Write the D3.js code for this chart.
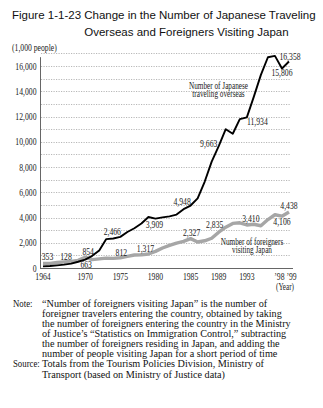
<!DOCTYPE html>
<html>
<head>
<meta charset="utf-8">
<script src="https://cdn.jsdelivr.net/npm/d3@7"></script>
<style>
  html, body { margin: 0; padding: 0; background: #fff; }
  svg { display: block; }
</style>
</head>
<body>
<svg id="chart" width="323" height="408"></svg>
<script>
// Years covered by the series
const years = [1964, 1965, 1966, 1967, 1968, 1969, 1970, 1971, 1972, 1973, 1974, 1975,
               1976, 1977, 1978, 1979, 1980, 1981, 1982, 1983, 1984, 1985, 1986, 1987,
               1988, 1989, 1990, 1991, 1992, 1993, 1994, 1995, 1996, 1997, 1998, 1999];

// Japanese traveling overseas (thousand people)
const japaneseOverseas = [128, 159, 212, 268, 344, 493, 663, 961, 1392, 2289, 2336, 2466,
                          2853, 3151, 3525, 4038, 3909, 4006, 4086, 4232, 4659, 4948, 5516, 6829,
                          8427, 9663, 10997, 10634, 11791, 11934, 13579, 15298, 16695, 16803, 15806, 16358];

// Foreigners visiting Japan (thousand people)
const foreignVisitors = [353, 367, 433, 477, 519, 609, 854, 661, 724, 785, 764, 812,
                         915, 1028, 1039, 1113, 1317, 1583, 1793, 1968, 2110, 2327, 2062, 2155,
                         2355, 2835, 3236, 3533, 3582, 3410, 3468, 3345, 3837, 4218, 4106, 4438];

// Axis ticks
const yTickValues = [0, 2000, 4000, 6000, 8000, 10000, 12000, 14000, 16000];
const xTickYears = [1964, 1970, 1975, 1980, 1985, 1989, 1993, 1998.5];
const xTickLabels = ["1964", "1970", "1975", "1980", "1985", "1989", "1993", "\u201998 \u201999"];

// Years whose values are written next to each line
const japaneseLabelYears = [1964, 1970, 1975, 1980, 1985, 1989, 1993, 1998, 1999];
const foreignLabelYears = [1964, 1970, 1975, 1980, 1985, 1989, 1993, 1998, 1999];

// Texts
const titleLines = ["Figure 1-1-23", "Change in the Number of Japanese Traveling",
                    "Overseas and Foreigners Visiting Japan"];
const unitLabel = "(1,000 people)";
const yearLabel = "(Year)";
const japaneseName = ["Number of Japanese", "traveling overseas"];
const foreignName = ["Number of foreigners", "visiting Japan"];
const noteLines = [
  ["Note:", "\u201cNumber of foreigners visiting Japan\u201d is the number of"],
  ["", "foreigner travelers entering the country, obtained by taking"],
  ["", "the number of foreigners entering the country in the Ministry"],
  ["", "of Justice\u2019s \u201cStatistics on Immigration Control,\u201d subtracting"],
  ["", "the number of foreigners residing in Japan, and adding the"],
  ["", "number of people visiting Japan for a short period of time"],
  ["Source:", "Totals from the Tourism Policies Division, Ministry of"],
  ["", "Transport (based on Ministry of Justice data)"]
];

const svg = d3.select("#chart");
const serif = "'Liberation Serif', 'Times New Roman', serif";
const sans = "'Liberation Sans', Arial, sans-serif";
const SX = 0.77;           // horizontal squeeze of the chart lettering
const chartFont = 10;

const x = d3.scaleLinear().domain([1964, 1999]).range([43, 289]);
const y = d3.scaleLinear().domain([0, 17000]).range([268, 53.4]);

// Squeezed serif text helper
function ctext(g, tx, ty, str, anchor, size) {
  return g.append("text")
    .attr("transform", `translate(${tx},${ty}) scale(${SX},1)`)
    .attr("text-anchor", anchor || "middle")
    .attr("font-family", serif)
    .attr("font-size", size || chartFont)
    .attr("fill", "#222")
    .text(str);
}

// ---- Title ----
const title = svg.append("g").attr("font-family", sans).attr("font-size", 11.5).attr("fill", "#111");
const t1 = title.append("text").attr("x", 12).attr("y", 18.5);
t1.append("tspan").text(titleLines[0] + " ");
t1.append("tspan").text(titleLines[1]);
const indent = 12 + t1.node().getSubStringLength(0, titleLines[0].length + 1);
title.append("text").attr("x", indent).attr("y", 35.5).text(titleLines[2]);

// ---- Grid ----
const grid = svg.append("g");
grid.selectAll("line")
  .data(y.ticks(17).filter(d => d > 0))
  .join("line")
  .attr("x1", x.range()[0] - 2).attr("x2", x.range()[1] + 2)
  .attr("y1", d => Math.round(y(d)) + 0.5).attr("y2", d => Math.round(y(d)) + 0.5)
  .attr("stroke", "#9a9a9a")
  .attr("stroke-width", 0.7)
  .attr("stroke-dasharray", "1.2,1.3");

// ---- Axes ----
const axisG = svg.append("g");
axisG.append("line")
  .attr("x1", 40.5).attr("x2", 40.5)
  .attr("y1", y(16700)).attr("y2", y(0) + 1)
  .attr("stroke", "#666").attr("stroke-width", 1);
axisG.append("line")
  .attr("x1", 40).attr("x2", x.range()[1] + 4)
  .attr("y1", Math.round(y(0)) + 0.5).attr("y2", Math.round(y(0)) + 0.5)
  .attr("stroke", "#666").attr("stroke-width", 1);

yTickValues.forEach(v => ctext(axisG, 36.5, y(v) + 3.5, d3.format(",")(v), "end"));
xTickYears.forEach((yr, i) => ctext(axisG, x(yr), 280, xTickLabels[i]));
ctext(axisG, 285, 290, yearLabel, "middle", 9.3);
ctext(axisG, 12, 51, unitLabel, "start");

// ---- Lines ----
const line = d3.line().x((d, i) => x(years[i])).y(d => y(d));
svg.append("path")
  .datum(foreignVisitors)
  .attr("d", line)
  .attr("fill", "none")
  .attr("stroke", "#a6a6a6")
  .attr("stroke-width", 3.4)
  .attr("stroke-linejoin", "round");
svg.append("path")
  .datum(japaneseOverseas)
  .attr("d", line)
  .attr("fill", "none")
  .attr("stroke", "#000")
  .attr("stroke-width", 1.9)
  .attr("stroke-linejoin", "round");

// ---- Value labels ----
const fmt = d3.format(",");
const japaneseOffsets = {
  1964: [23, -6], 1970: [1, 8], 1975: [-8, -1.5], 1980: [-1, 9], 1985: [-8.5, -0.5],
  1989: [-10, 0.5], 1993: [10.5, 8], 1998: [0, 8], 1999: [1, -2]
};
const foreignOffsets = {
  1964: [4.5, -3.5], 1970: [3, -2.5], 1975: [1, -2.2], 1980: [-10, 0.3], 1985: [1, -2.6],
  1989: [-4, -4], 1993: [4, -3.3], 1998: [0, 9], 1999: [0, -2.5]
};
const labels = svg.append("g");
japaneseLabelYears.forEach(yr => {
  const v = japaneseOverseas[years.indexOf(yr)];
  const o = japaneseOffsets[yr];
  ctext(labels, x(yr) + o[0], y(v) + o[1], fmt(v));
});
foreignLabelYears.forEach(yr => {
  const v = foreignVisitors[years.indexOf(yr)];
  const o = foreignOffsets[yr];
  ctext(labels, x(yr) + o[0], y(v) + o[1], fmt(v));
});

// ---- Series names ----
japaneseName.forEach((s, i) => ctext(labels, 218.5, 88.5 + i * 8.6, s, "middle", 9.4));
foreignName.forEach((s, i) => ctext(labels, 252, 244.5 + i * 8.8, s, "middle", 9.4));

// ---- Note and source ----
// Body lines are squeezed so the widest one spans the text column (x 42 to 302).
const noteSize = 10.2;
const note = svg.append("g").attr("font-family", serif).attr("font-size", noteSize).attr("fill", "#111");
const probe = note.append("text").text(noteLines[2][1]);
const noteSX = Math.min(1, 260 / probe.node().getComputedTextLength());
probe.remove();
noteLines.forEach((ln, i) => {
  const by = 306.5 + i * 10.15;
  if (ln[0]) note.append("text")
    .attr("transform", `translate(13,${by}) scale(${noteSX * 0.86},1)`).text(ln[0]);
  note.append("text")
    .attr("transform", `translate(42,${by}) scale(${noteSX},1)`).text(ln[1]);
});
</script>
</body>
</html>
